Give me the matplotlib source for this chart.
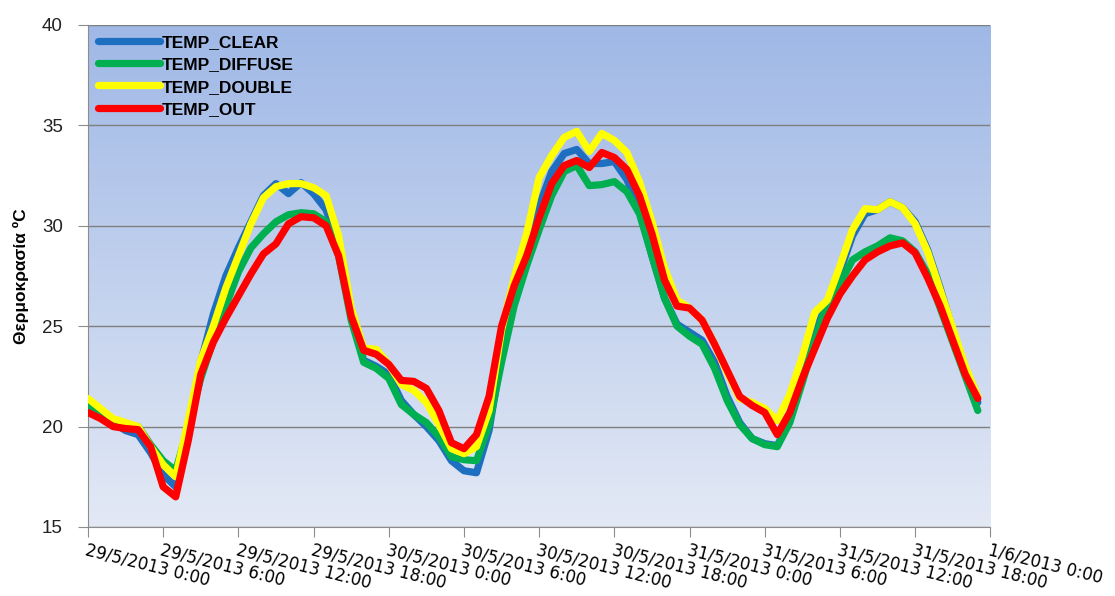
import numpy as np
import matplotlib
matplotlib.use("Agg")
import matplotlib.pyplot as plt

# hourly readings, 29/5/2013 0:00 onward
hours = list(range(72))

temp_clear = [21.3, 20.8, 20.2, 19.8, 19.6, 18.7, 17.6, 17.0, 19.8, 23.2, 25.6, 27.5,
              28.9, 30.2, 31.5, 32.1, 31.6, 32.15, 31.6, 30.8, 29.0, 25.5, 23.3, 23.0,
              22.6, 21.3, 20.6, 20.0, 19.3, 18.3, 17.8, 17.7, 19.8, 23.6, 26.6, 28.9,
              31.0, 32.7, 33.6, 33.8, 33.1, 33.1, 33.2, 32.3, 30.8, 28.5, 26.4, 25.1,
              24.7, 24.3, 23.2, 21.5, 20.2, 19.4, 19.15, 19.05, 20.3, 22.4, 24.8, 26.1,
              27.7, 29.5, 30.6, 30.8, 31.2, 30.9, 30.2, 28.8, 26.9, 24.8, 22.9, 21.2]

temp_diffuse = [21.1, 20.6, 20.15, 20.05, 20.0, 19.1, 18.3, 17.8, 20.0, 22.4, 24.3, 26.0,
                27.7, 28.9, 29.6, 30.2, 30.55, 30.65, 30.6, 30.2, 28.5, 25.3, 23.2, 22.9,
                22.4, 21.1, 20.6, 20.2, 19.5, 18.5, 18.35, 18.3, 20.1, 23.2, 26.0, 28.0,
                29.8, 31.5, 32.7, 33.0, 32.0, 32.05, 32.2, 31.7, 30.6, 28.5, 26.4, 25.0,
                24.5, 24.1, 22.9, 21.3, 20.1, 19.4, 19.1, 19.0, 20.2, 22.2, 24.3, 26.2,
                27.1, 28.3, 28.7, 29.0, 29.4, 29.25, 28.7, 27.6, 25.9, 24.2, 22.5, 20.8]

temp_double = [21.4, 20.9, 20.4, 20.2, 20.0, 19.0, 18.1, 17.5, 20.3, 23.3, 25.0, 26.9,
               28.5, 30.1, 31.4, 31.95, 32.1, 32.1, 31.9, 31.5, 29.5, 25.9, 23.9, 23.85,
               23.1, 22.1, 21.8, 21.2, 20.1, 18.9, 18.65, 19.0, 20.8, 24.8, 27.4, 29.6,
               32.4, 33.5, 34.4, 34.7, 33.7, 34.6, 34.25, 33.65, 32.2, 30.2, 27.9, 26.3,
               25.9, 25.3, 24.1, 22.7, 21.4, 21.2, 20.9, 20.3, 21.6, 23.5, 25.7, 26.3,
               28.0, 29.8, 30.85, 30.8, 31.2, 30.9, 30.1, 28.7, 26.8, 24.9, 23.0, 21.5]

temp_out = [20.7, 20.4, 20.0, 19.9, 19.85, 19.0, 17.0, 16.5, 19.3, 22.6, 24.2, 25.4,
            26.5, 27.6, 28.6, 29.1, 30.1, 30.45, 30.4, 30.0, 28.5, 25.5, 23.8, 23.6,
            23.1, 22.3, 22.25, 21.9, 20.8, 19.2, 18.9, 19.6, 21.5, 25.0, 27.0, 28.5,
            30.4, 32.1, 33.0, 33.25, 32.9, 33.65, 33.4, 32.8, 31.5, 29.6, 27.3, 26.0,
            25.9, 25.3, 24.1, 22.8, 21.5, 21.05, 20.7, 19.6, 20.7, 22.4, 23.9, 25.4,
            26.6, 27.5, 28.3, 28.7, 29.0, 29.15, 28.65, 27.4, 26.0, 24.3, 22.6, 21.4]

tick_hours = list(range(0, 73, 6))
tick_labels = ["29/5/2013 0:00", "29/5/2013 6:00", "29/5/2013 12:00", "29/5/2013 18:00",
               "30/5/2013 0:00", "30/5/2013 6:00", "30/5/2013 12:00", "30/5/2013 18:00",
               "31/5/2013 0:00", "31/5/2013 6:00", "31/5/2013 12:00", "31/5/2013 18:00",
               "1/6/2013 0:00"]

series = [("TEMP_CLEAR", temp_clear, "#1f6fc0"),
          ("TEMP_DIFFUSE", temp_diffuse, "#00b050"),
          ("TEMP_DOUBLE", temp_double, "#ffff00"),
          ("TEMP_OUT", temp_out, "#ff0000")]

fig = plt.figure(figsize=(11.15, 5.96), dpi=100)
ax = fig.add_axes([0.0789, 0.1158, 0.8093, 0.8423])

# gradient background of the plot area
grad = np.linspace(0, 1, 256).reshape(-1, 1)
cmap = matplotlib.colors.LinearSegmentedColormap.from_list("bg", ["#e3e9f5", "#9fb8e6"])
ax.imshow(grad, aspect="auto", cmap=cmap, extent=[0, 1, 0, 1], origin="lower",
          transform=ax.transAxes, zorder=0)

for name, vals, col in series:
    ax.plot(hours, vals, color=col, lw=5.2, label=name, solid_capstyle="round",
            solid_joinstyle="round", zorder=3)

ax.set_xlim(0, 72)
ax.set_ylim(15, 40)
ax.set_yticks([15, 20, 25, 30, 35, 40])
ax.set_xticks(tick_hours)
ax.set_xticklabels(tick_labels, rotation=-14, ha="left", va="top",
                   rotation_mode="anchor", fontsize=12, family="DejaVu Sans")
for lbl in ax.get_yticklabels():
    lbl.set_family("Liberation Sans")
    lbl.set_fontsize(13.5)
    lbl.set_color("#222222")

ax.grid(axis="y", color="#7f7f7f", lw=1, zorder=1)
for s in ["top", "right"]:
    ax.spines[s].set_visible(False)
for s in ["left", "bottom"]:
    ax.spines[s].set_color("#8c8c8c")
ax.tick_params(axis="both", direction="out", length=7, color="#8c8c8c")
ax.tick_params(axis="y", pad=11)
ax.tick_params(axis="x", pad=3)

ax.set_ylabel("Θερμοκρασία ºC", fontsize=12.5, fontweight="bold", family="Liberation Sans",
              labelpad=9)

leg = ax.legend(loc="upper left", frameon=False, handlelength=3.6, handletextpad=0.1,
                borderaxespad=0.1, labelspacing=0.42, borderpad=0.45,
                prop={"weight": "bold", "size": 12.5, "family": "Liberation Sans"})

fig.savefig("out.png", dpi=100)
